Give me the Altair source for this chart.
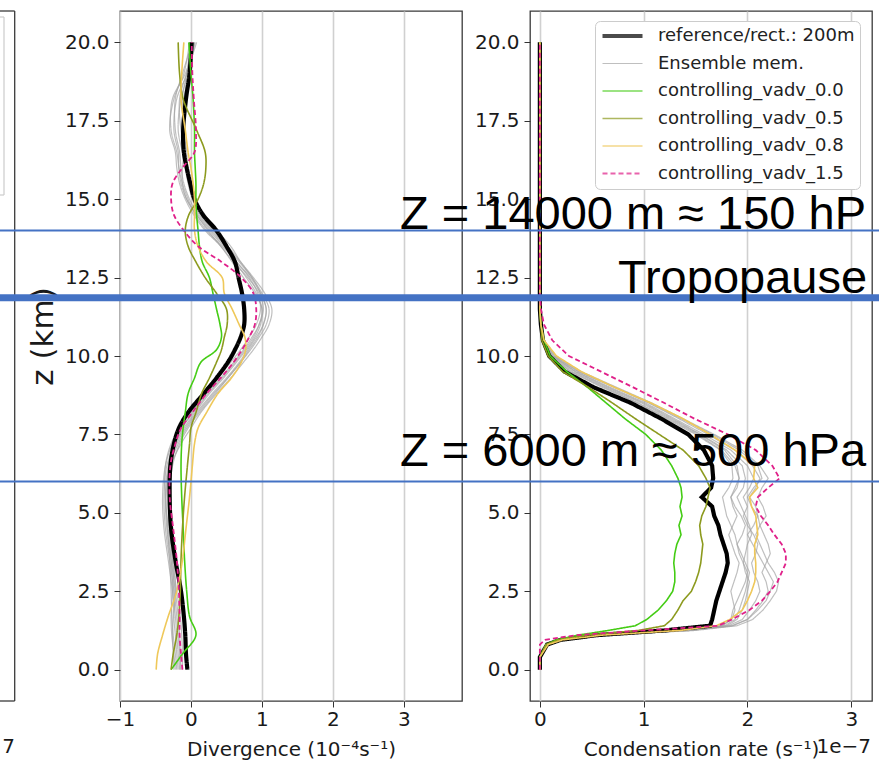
import altair as alt
import pandas as pd

# ---------------- divergence profiles (10^-4 s^-1) ----------------
Z_DIV = [0.0, 0.5, 1.1, 1.7, 2.5, 3.5, 4.5, 5.5, 6.5, 7.2, 7.7, 8.2, 8.8, 9.3, 9.8,
         10.2, 10.6, 11.0, 11.5, 12.0, 12.5, 13.0, 13.5, 14.0, 14.5, 15.0, 15.5,
         16.0, 16.5, 17.2, 18.2, 19.0, 20.0]

DIV_REFERENCE = [-0.05, -0.07, -0.08, -0.10, -0.14, -0.22, -0.28, -0.30, -0.29, -0.24, -0.17,
                 -0.04, 0.18, 0.36, 0.52, 0.62, 0.70, 0.75, 0.75, 0.72, 0.67, 0.62, 0.50,
                 0.36, 0.17, 0.05, -0.01, -0.06, -0.10, -0.11, -0.07, -0.02, 0.01]

DIV_ENSEMBLE = [
    [-0.15, -0.16, -0.18, -0.20, -0.24, -0.30, -0.36, -0.38, -0.34, -0.22, -0.10, 0.06, 0.26, 0.46, 0.64,
     0.78, 0.90, 0.98, 1.00, 0.92, 0.78, 0.62, 0.48, 0.28, 0.10, -0.02, -0.10, -0.14, -0.16, -0.22,
     -0.22, -0.12, 0.02],
    [-0.20, -0.22, -0.25, -0.27, -0.28, -0.30, -0.33, -0.35, -0.30, -0.18, -0.06, 0.10, 0.32, 0.52, 0.70,
     0.84, 0.96, 1.06, 1.10, 1.00, 0.86, 0.68, 0.50, 0.30, 0.12, 0.02, -0.04, -0.08, -0.12, -0.18,
     -0.14, -0.04, 0.05],
    [-0.12, -0.12, -0.13, -0.15, -0.20, -0.26, -0.30, -0.32, -0.30, -0.20, -0.08, 0.08, 0.30, 0.50, 0.68,
     0.80, 0.92, 1.02, 1.06, 0.98, 0.84, 0.64, 0.44, 0.22, 0.06, -0.04, -0.12, -0.17, -0.20, -0.28,
     -0.26, -0.08, 0.06],
    [-0.22, -0.24, -0.27, -0.28, -0.26, -0.28, -0.32, -0.36, -0.36, -0.28, -0.16, 0.00, 0.20, 0.38, 0.56,
     0.70, 0.82, 0.92, 0.98, 0.94, 0.82, 0.64, 0.46, 0.26, 0.08, -0.06, -0.12, -0.12, -0.10, -0.12,
     -0.10, -0.03, 0.04],
    [-0.18, -0.20, -0.22, -0.24, -0.22, -0.24, -0.30, -0.32, -0.28, -0.14, 0.00, 0.14, 0.36, 0.56, 0.74,
     0.88, 1.00, 1.10, 1.14, 1.04, 0.88, 0.70, 0.52, 0.32, 0.14, 0.04, 0.00, -0.05, -0.08, -0.14,
     -0.16, -0.06, 0.08],
    [-0.14, -0.15, -0.16, -0.18, -0.22, -0.28, -0.34, -0.36, -0.32, -0.22, -0.12, 0.02, 0.22, 0.42, 0.60,
     0.74, 0.86, 0.96, 1.00, 0.90, 0.74, 0.58, 0.42, 0.20, 0.04, -0.08, -0.16, -0.20, -0.22, -0.30,
     -0.24, -0.10, -0.02],
    [-0.24, -0.25, -0.26, -0.25, -0.24, -0.26, -0.30, -0.30, -0.26, -0.16, -0.04, 0.12, 0.34, 0.52, 0.70,
     0.82, 0.94, 1.02, 1.06, 0.98, 0.86, 0.70, 0.56, 0.36, 0.16, 0.04, -0.02, -0.05, -0.06, -0.10,
     -0.12, -0.06, 0.00],
    [-0.16, -0.18, -0.20, -0.22, -0.26, -0.32, -0.38, -0.40, -0.36, -0.26, -0.14, 0.04, 0.24, 0.44, 0.62,
     0.76, 0.88, 0.96, 1.02, 0.96, 0.80, 0.60, 0.42, 0.24, 0.08, -0.06, -0.14, -0.17, -0.18, -0.24,
     -0.20, -0.06, 0.04],
]

DIV_VADV_00 = [-0.28, -0.12, 0.07, -0.02, -0.06, -0.09, -0.11, -0.13, -0.14, -0.13, -0.11, -0.08, -0.04,
               0.05, 0.14, 0.36, 0.43, 0.41, 0.36, 0.31, 0.26, 0.16, 0.12, 0.10, 0.08, 0.07, 0.07, 0.06,
               0.05, 0.05, 0.03, 0.00, -0.03]
DIV_VADV_05 = [-0.28, -0.25, -0.20, -0.17, -0.15, -0.14, -0.12, -0.09, -0.05, -0.02, 0.00, 0.07, 0.15,
               0.26, 0.36, 0.43, 0.47, 0.51, 0.50, 0.36, 0.20, 0.07, -0.04, -0.08, -0.03, 0.10, 0.18,
               0.21, 0.20, 0.08, -0.11, -0.16, -0.18]
DIV_VADV_08 = [-0.49, -0.47, -0.40, -0.32, -0.20, -0.12, -0.07, -0.02, 0.02, 0.05, 0.10, 0.22, 0.38,
               0.57, 0.71, 0.77, 0.76, 0.68, 0.58, 0.47, 0.44, 0.22, 0.10, 0.05, 0.05, 0.05, 0.03,
               0.00, -0.04, -0.08, -0.14, -0.13, -0.10]
DIV_VADV_15 = [-0.12, -0.14, -0.16, -0.16, -0.17, -0.20, -0.25, -0.30, -0.29, -0.22, -0.14, 0.02, 0.22,
               0.42, 0.60, 0.72, 0.82, 0.90, 0.92, 0.88, 0.71, 0.43, 0.10, -0.10, -0.24, -0.28, -0.26,
               -0.12, 0.05, 0.07, 0.04, 0.02, 0.01]

# ---------------- condensation-rate profiles (1e-7 s^-1) ----------------
Z_CON = [0.0, 0.4, 0.8, 0.95, 1.1, 1.25, 1.4, 1.6, 1.9, 2.2, 2.5, 2.8, 3.1, 3.4, 3.7, 4.0, 4.3,
         4.6, 4.9, 5.2, 5.5, 5.8, 6.1, 6.5, 7.0, 7.5, 8.0, 8.5, 9.0, 9.5, 10.0, 10.5, 11.0, 11.5,
         12.0, 20.0]

CON_REFERENCE = [0, 0, 0.07, 0.20, 0.55, 1.20, 1.64, 1.66, 1.68, 1.70, 1.73, 1.76, 1.79, 1.81, 1.80,
                 1.77, 1.74, 1.72, 1.68, 1.66, 1.56, 1.65, 1.67, 1.66, 1.58, 1.43, 1.17, 0.88, 0.52,
                 0.24, 0.09, 0.03, 0.01, 0, 0, 0]

CON_ENSEMBLE = [
    [0, 0, 0.07, 0.20, 0.58, 1.40, 1.80, 1.90, 1.95, 1.98, 2.00, 2.02, 1.98, 1.96, 1.98, 2.00, 2.04,
     2.02, 1.98, 1.94, 1.90, 1.96, 1.98, 1.95, 1.80, 1.55, 1.28, 1.00, 0.66, 0.34, 0.12, 0.03, 0.01,
     0, 0, 0],
    [0, 0, 0.08, 0.22, 0.60, 1.45, 1.85, 2.00, 2.10, 2.18, 2.22, 2.25, 2.20, 2.15, 2.10, 2.05, 2.00,
     2.06, 2.10, 2.08, 2.02, 2.08, 2.12, 2.05, 1.88, 1.62, 1.34, 1.05, 0.72, 0.38, 0.14, 0.04, 0.01,
     0, 0, 0],
    [0, 0, 0.07, 0.20, 0.55, 1.35, 1.75, 1.85, 1.88, 1.86, 1.84, 1.87, 1.90, 1.92, 1.88, 1.85, 1.82,
     1.86, 1.90, 1.86, 1.84, 1.90, 1.92, 1.88, 1.75, 1.52, 1.24, 0.95, 0.62, 0.30, 0.10, 0.03, 0.01,
     0, 0, 0],
    [0, 0, 0.08, 0.22, 0.62, 1.50, 1.90, 2.05, 2.15, 2.22, 2.28, 2.30, 2.26, 2.20, 2.16, 2.12, 2.08,
     2.12, 2.18, 2.15, 2.10, 2.14, 2.20, 2.12, 1.95, 1.68, 1.38, 1.08, 0.74, 0.40, 0.15, 0.04, 0.01,
     0, 0, 0],
    [0, 0, 0.07, 0.21, 0.57, 1.38, 1.78, 1.88, 1.92, 1.95, 1.98, 2.00, 2.02, 1.98, 1.94, 1.90, 1.95,
     1.98, 1.94, 1.88, 1.84, 1.88, 1.92, 1.90, 1.78, 1.54, 1.26, 0.98, 0.64, 0.32, 0.11, 0.03, 0.01,
     0, 0, 0],
    [0, 0, 0.08, 0.21, 0.60, 1.42, 1.82, 1.95, 2.02, 2.08, 2.12, 2.10, 2.06, 2.04, 2.08, 2.10, 2.06,
     2.00, 1.96, 2.00, 1.96, 2.02, 2.06, 2.00, 1.84, 1.58, 1.30, 1.02, 0.68, 0.35, 0.12, 0.03, 0.01,
     0, 0, 0],
    [0, 0, 0.07, 0.20, 0.56, 1.36, 1.76, 1.84, 1.86, 1.90, 1.94, 1.98, 2.00, 1.96, 1.92, 1.90, 1.88,
     1.84, 1.80, 1.78, 1.76, 1.82, 1.86, 1.85, 1.74, 1.50, 1.22, 0.94, 0.60, 0.29, 0.10, 0.03, 0.01,
     0, 0, 0],
    [0, 0, 0.08, 0.22, 0.61, 1.46, 1.86, 2.00, 2.08, 2.15, 2.20, 2.18, 2.14, 2.18, 2.22, 2.20, 2.16,
     2.12, 2.10, 2.04, 2.00, 2.06, 2.14, 2.10, 1.92, 1.66, 1.36, 1.06, 0.72, 0.37, 0.13, 0.04, 0.01,
     0, 0, 0],
]

CON_VADV_00 = [0, 0, 0.06, 0.16, 0.37, 0.66, 0.92, 1.03, 1.14, 1.22, 1.28, 1.30, 1.30, 1.29, 1.30,
               1.32, 1.36, 1.34, 1.37, 1.35, 1.37, 1.36, 1.33, 1.27, 1.17, 1.02, 0.82, 0.64, 0.46,
               0.26, 0.10, 0.04, 0.01, 0, 0, 0]
CON_VADV_05 = [0, 0, 0.06, 0.18, 0.45, 0.95, 1.20, 1.27, 1.33, 1.38, 1.46, 1.50, 1.53, 1.55, 1.56,
               1.57, 1.55, 1.54, 1.56, 1.60, 1.62, 1.64, 1.60, 1.53, 1.38, 1.15, 0.92, 0.70, 0.47,
               0.22, 0.08, 0.02, 0.01, 0, 0, 0]
CON_VADV_08 = [0, 0, 0.08, 0.22, 0.60, 1.35, 1.70, 1.83, 1.95, 2.00, 2.04, 2.07, 2.08, 2.08, 2.07,
               2.07, 2.10, 2.09, 2.08, 2.04, 2.02, 2.10, 2.06, 2.07, 1.88, 1.64, 1.38, 1.07, 0.72,
               0.40, 0.16, 0.04, 0.01, 0, 0, 0]
CON_VADV_15 = [0, 0, 0.0, 0.05, 0.35, 1.00, 1.72, 1.85, 2.02, 2.14, 2.22, 2.29, 2.33, 2.37, 2.37,
               2.33, 2.26, 2.20, 2.13, 2.08, 2.10, 2.20, 2.31, 2.24, 2.08, 1.81, 1.49, 1.20, 0.90,
               0.59, 0.28, 0.12, 0.04, 0.01, 0, 0]

# ---------------- series and styling ----------------
SERIES = ["reference/rect.: 200m", "Ensemble mem.", "controlling_vadv_0.0",
          "controlling_vadv_0.5", "controlling_vadv_0.8", "controlling_vadv_1.5"]
SERIES_COLORS = ["#000000", "#a4a4a4", "#44cc14", "#8c9a1e", "#efc85a", "#e0218a"]
SERIES_WIDTHS = [4.2, 1.2, 1.6, 1.6, 1.6, 1.8]
SERIES_DASHES = [[1, 0], [1, 0], [1, 0], [1, 0], [1, 0], [5, 3]]

# reference levels drawn across the figure (km)
LEVEL_UPPER_KM = 14.0
LEVEL_TROPOPAUSE_KM = 11.86
LEVEL_LOWER_KM = 6.0
LABEL_UPPER = "Z = 14000 m ≈ 150 hPa"
LABEL_TROPOPAUSE = "Tropopause"
LABEL_LOWER = "Z = 6000 m ≈ 500 hPa"

Y_TICKS = [0, 2.5, 5, 7.5, 10, 12.5, 15, 17.5, 20]
DIV_TICKS = [-1, 0, 1, 2, 3]
CON_TICKS = [0, 1, 2, 3]

PANEL_W, PANEL_H = 342, 690
GAP = 68
TEXT_COLOR = "#1a1a1a"
LEVEL_COLOR = "#4472c4"


def profile(z, values, series, member="0"):
    return pd.DataFrame({"z": z, "v": values, "series": series, "member": member})


def ensemble(z, members):
    return pd.concat([profile(z, m, SERIES[1], f"m{i}") for i, m in enumerate(members)],
                     ignore_index=True)


def y_enc(with_title):
    axis_kw = dict(values=Y_TICKS, format=".1f", grid=False, domain=False, tickSize=6,
                   tickColor="#333333", labelPadding=5, labelFontSize=20, labelColor=TEXT_COLOR)
    if with_title:
        axis_kw.update(title="z (km)", titleFontSize=31, titleFontWeight="normal",
                       titleColor=TEXT_COLOR, titleX=-77, titleY=325, titleAngle=270,
                       titleAlign="center", titleBaseline="middle")
    else:
        axis_kw.update(title=None)
    return alt.Y("z:Q", scale=alt.Scale(domain=[-1, 21], nice=False, zero=False),
                 axis=alt.Axis(**axis_kw))


def x_enc(domain, ticks, title):
    return alt.X("v:Q", scale=alt.Scale(domain=domain, nice=False, zero=False),
                 axis=alt.Axis(values=ticks, format="d", title=title, grid=True,
                               gridColor="#d0d0d0", gridWidth=1.6, domain=False, tickSize=6,
                               tickColor="#333333", labelPadding=2, labelFontSize=20,
                               labelColor=TEXT_COLOR, titleFontSize=20, titleFontWeight="normal",
                               titleColor=TEXT_COLOR, titlePadding=10, labelFlush=False,
                               labelOverlap=False))


def style_enc(with_legend):
    legend = None
    if with_legend:
        legend = alt.Legend(title=None, orient="none", legendX=65, legendY=10,
                            symbolType="stroke", symbolSize=1600, clipHeight=20,
                            rowPadding=7.5, labelFontSize=18, labelOffset=13, labelLimit=400,
                            labelColor="#222222", padding=5, fillColor="white",
                            strokeColor="#cccccc", cornerRadius=5)
    return dict(
        color=alt.Color("series:N", scale=alt.Scale(domain=SERIES, range=SERIES_COLORS),
                        legend=legend),
        strokeDash=alt.StrokeDash("series:N", scale=alt.Scale(domain=SERIES, range=SERIES_DASHES),
                                  legend=legend),
        strokeWidth=alt.StrokeWidth("series:N", scale=alt.Scale(type="ordinal", domain=SERIES,
                                                                range=SERIES_WIDTHS),
                                    legend=legend),
    )


def profile_layers(z, ens, ref, controls, x, y, styles, interp):
    frames = [ensemble(z, ens), profile(z, ref, SERIES[0])]
    frames += [profile(z, vals, name) for vals, name in zip(controls, SERIES[2:])]
    layers = []
    for i, df in enumerate(frames):
        layers.append(
            alt.Chart(df).mark_line(interpolate=interp, opacity=0.7 if i == 0 else 1.0)
            .encode(x=x, y=y, order=alt.Order("z:Q"), detail="member:N", **styles)
        )
    return layers


one_row = pd.DataFrame({"k": [0]})

# ---------------- divergence panel ----------------
y_mid = y_enc(True)
x_mid = x_enc([-1, 3.82], DIV_TICKS, "Divergence (10⁻⁴s⁻¹)")
mid_layers = profile_layers(Z_DIV, DIV_ENSEMBLE, DIV_REFERENCE,
                            [DIV_VADV_00, DIV_VADV_05, DIV_VADV_08, DIV_VADV_15],
                            x_mid, y_mid, style_enc(False), "catmull-rom")

# edge of the neighbouring panel on the left
frame = alt.Chart(one_row).mark_rule(color="#3a3a3a", strokeWidth=1.3)
mid_layers += [
    frame.encode(x=alt.value(-105.3), y=alt.value(0), y2=alt.value(PANEL_H)),
    frame.encode(x=alt.value(-122), x2=alt.value(-105.3), y=alt.value(0)),
    frame.encode(x=alt.value(-122), x2=alt.value(-105.3), y=alt.value(PANEL_H)),
]
legend_edge = alt.Chart(one_row).mark_rule(color="#cccccc", strokeWidth=1.2)
mid_layers += [
    legend_edge.encode(x=alt.value(-116), y=alt.value(6), y2=alt.value(184)),
    legend_edge.encode(x=alt.value(-122), x2=alt.value(-116), y=alt.value(6)),
    legend_edge.encode(x=alt.value(-122), x2=alt.value(-116), y=alt.value(184)),
    alt.Chart(one_row).mark_text(text="7", fontSize=20, align="right", baseline="alphabetic",
                                 color=TEXT_COLOR)
    .encode(x=alt.value(-105), y=alt.value(742)),
]
mid = alt.layer(*mid_layers).properties(width=PANEL_W, height=PANEL_H)

# ---------------- condensation panel ----------------
y_right = y_enc(False)
x_right = x_enc([-0.095, 3.2], CON_TICKS, "Condensation rate (s⁻¹)")
right_layers = profile_layers(Z_CON, CON_ENSEMBLE, CON_REFERENCE,
                              [CON_VADV_00, CON_VADV_05, CON_VADV_08, CON_VADV_15],
                              x_right, y_right, style_enc(True), "linear")

right_layers.append(
    alt.Chart(one_row).mark_text(text="1e−7", fontSize=20, align="right", baseline="alphabetic",
                                 color=TEXT_COLOR)
    .encode(x=alt.value(341), y=alt.value(742))
)

# horizontal levels spanning the whole figure
span_left, span_right = -(PANEL_W + GAP + 122), 349
thin_levels = pd.DataFrame({"z": [LEVEL_UPPER_KM, LEVEL_LOWER_KM]})
thick_levels = pd.DataFrame({"z": [LEVEL_TROPOPAUSE_KM]})
right_layers += [
    alt.Chart(thin_levels).mark_rule(color=LEVEL_COLOR, strokeWidth=2)
    .encode(y=y_right, x=alt.value(span_left), x2=alt.value(span_right)),
    alt.Chart(thick_levels).mark_rule(color=LEVEL_COLOR, strokeWidth=7)
    .encode(y=y_right, x=alt.value(span_left), x2=alt.value(span_right)),
]

big_text = dict(font="Liberation Sans", fontSize=47, align="left", baseline="alphabetic",
                color="black", limit=490, ellipsis="\u200b")
for level, label, xpos, shift in [(LEVEL_UPPER_KM, LABEL_UPPER, -130, -2),
                                  (LEVEL_TROPOPAUSE_KM, LABEL_TROPOPAUSE, 88, -5),
                                  (LEVEL_LOWER_KM, LABEL_LOWER, -130, -15)]:
    right_layers.append(
        alt.Chart(pd.DataFrame({"z": [level], "label": [label]}))
        .mark_text(dy=shift, **big_text)
        .encode(y=y_right, x=alt.value(xpos), text="label:N")
    )

right = alt.layer(*right_layers).properties(width=PANEL_W, height=PANEL_H)

chart = (
    alt.hconcat(mid, right, spacing=GAP, bounds="flush")
    .resolve_scale(x="independent", y="independent", color="independent",
                   strokeDash="independent", strokeWidth="independent")
    .properties(padding={"left": -7, "top": 9, "right": 0, "bottom": 0})
    .configure(font="DejaVu Sans")
    .configure_view(stroke="#3a3a3a", strokeWidth=1.3)
)

chart.save("out.html", embed_options={"renderer": "svg", "actions": False})
